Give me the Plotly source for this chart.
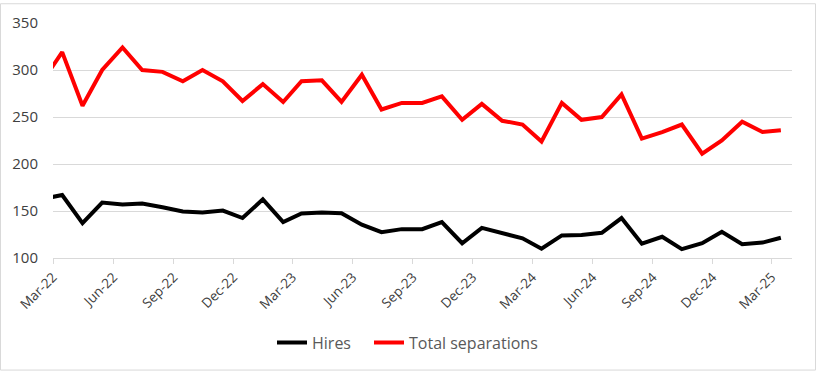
import pandas as pd
import plotly.graph_objects as go

# Monthly data, Feb-22 .. Mar-25 (Feb-22 lies just left of the axis and is clipped)
months = pd.date_range("2022-02-01", "2025-03-01", freq="MS") + pd.Timedelta(days=14)

hires = [163, 167, 137, 159, 157, 158, 154, 149.5, 148.4, 150.5, 142.5, 162.4, 138.3,
         147.4, 148.4, 147.7, 135.5, 127.5, 130.7, 130.7, 138.3, 115.7, 132, 126.8,
         120.9, 109.8, 124, 124.4, 126.8, 142.5, 115.3, 122.6, 109.4, 115.7, 127.9,
         114.6, 116.4, 121.6]

separations = [290, 319, 262, 300, 324, 300, 298, 288, 300, 288, 267, 285, 266,
               288, 289, 266, 295, 258, 265, 265, 272, 247, 264, 246, 242, 224,
               265, 247, 250, 274, 227, 234, 242, 211, 225, 245, 234, 236]

tick_dates = pd.date_range("2022-03-01", "2025-03-01", freq="3MS")
tick_labels = [d.strftime("%b-%y") for d in tick_dates]
y_ticks = [100, 150, 200, 250, 300, 350]

W, H = 816, 372
L, R, T, B = 53, 24, 20, 114
PW, PH = W - L - R, H - T - B

FONT = "Open Sans, Lato, DejaVu Sans, sans-serif"
GRID = "#D9D9D9"
TXT = "#404040"
LEG = "#595959"

fig = go.Figure()
fig.add_trace(go.Scatter(x=months, y=hires, mode="lines", name="Hires",
                         line=dict(color="#000000", width=4), legend="legend"))
fig.add_trace(go.Scatter(x=months, y=separations, mode="lines", name="Total separations",
                         line=dict(color="#FF0000", width=4), legend="legend2"))

leg_common = dict(orientation="h", xanchor="left", y=-0.36, yanchor="middle",
                  font=dict(size=16, color=LEG, family=FONT), itemwidth=30,
                  bgcolor="rgba(0,0,0,0)")

fig.update_layout(
    width=W, height=H,
    margin=dict(l=L, r=R, t=T, b=B),
    paper_bgcolor="white", plot_bgcolor="white",
    font=dict(family=FONT, color=TXT),
    showlegend=True,
    legend=dict(x=(272 - L) / PW, **leg_common),
    legend2=dict(x=(369 - L) / PW, **leg_common),
    xaxis=dict(type="date", range=["2022-03-01", "2025-04-01"],
               tickvals=tick_dates, ticktext=tick_labels, tickangle=-45,
               tickfont=dict(size=13.5, color=TXT, family=FONT),
               showgrid=False, showline=True, linecolor=GRID, linewidth=1,
               ticks="outside", ticklen=5, tickcolor=GRID, zeroline=False),
    yaxis=dict(range=[100, 350], tickvals=y_ticks,
               tickfont=dict(size=15, color=TXT, family=FONT),
               showgrid=True, gridcolor=GRID, gridwidth=1,
               showline=False, zeroline=False, ticks="", ticklabelstandoff=14),
    shapes=[dict(type="rect", xref="paper", yref="paper",
                 x0=(0.5 - L) / PW, x1=(W - 0.5 - L) / PW,
                 y0=-(B - 0.5) / PH, y1=1 + (T - 0.5) / PH,
                 line=dict(color=GRID, width=1), fillcolor="rgba(0,0,0,0)")],
)

fig.write_html("out.html", config={"displayModeBar": False},
               post_script="document.body.style.margin='0';")
